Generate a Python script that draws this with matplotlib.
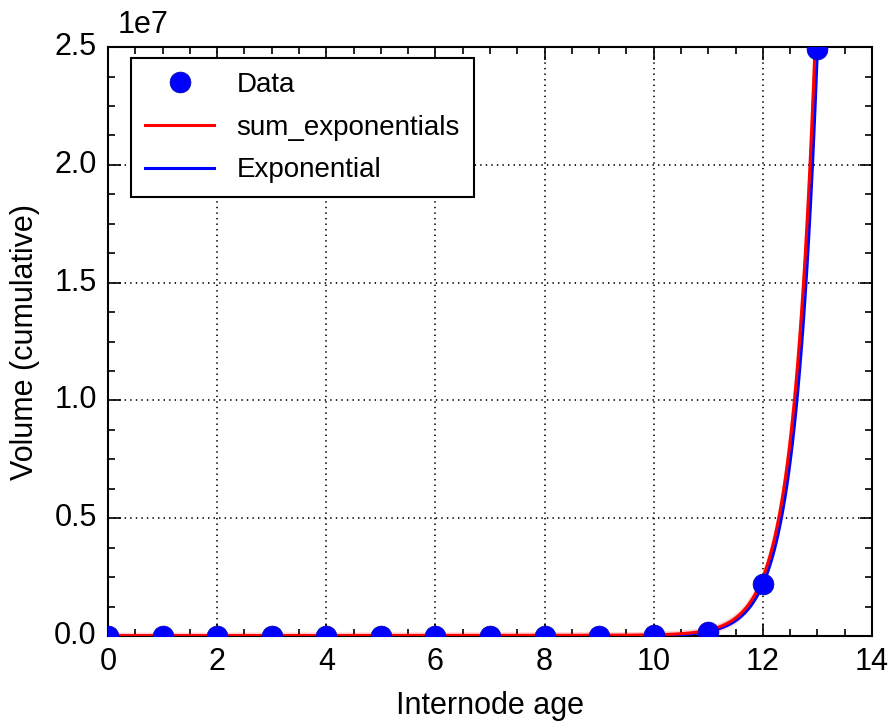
import numpy as np
import matplotlib
matplotlib.use("Agg")
import matplotlib.pyplot as plt
from matplotlib.ticker import AutoMinorLocator, FuncFormatter

# measured data (cumulative volume per internode age)
age = [0, 1, 2, 3, 4, 5, 6, 7, 8, 9, 10, 11, 12, 13]
volume = [5e3, 7e3, 9e3, 1.0e4, 1.1e4, 1.2e4, 1.3e4, 1.4e4, 1.5e4, 1.7e4,
          2.5e4, 1.9e5, 2.2e6, 2.49e7]

# fitted parameters
exp_a, exp_b = 4.76e-7, 2.43
sum_a1, sum_b1 = 5.3e-7, 2.43
sum_a2, sum_b2 = 1.5e4, 0.08
band_abs, band_rel = 1.5e5, 0.08

plt.style.use("classic")
plt.rcParams["font.family"] = ["Liberation Sans", "DejaVu Sans"]
plt.rcParams["font.size"] = 22

fig = plt.figure(figsize=(8.88, 7.24), dpi=100, facecolor="white")
ax = fig.add_axes([0.1216, 0.1215, 0.982 - 0.1216, 0.935 - 0.1215])

xx = np.linspace(0, 13, 400)
y_exp = exp_a * np.exp(exp_b * xx)
y_sum = sum_a1 * np.exp(sum_b1 * xx) + sum_a2 * np.exp(sum_b2 * xx)
w = band_abs + band_rel * y_sum

ax.fill_between(xx, y_sum - w, y_sum + w, color="red", alpha=0.18, lw=0)
ax.plot(age, volume, "o", color="blue", mec="#0000aa", mew=0.5, ms=15,
        label="Data", zorder=5)
ax.plot(xx, y_sum, "r-", lw=2.2, label="sum_exponentials", zorder=4)
ax.plot(xx, y_exp, "b-", lw=2.2, label="Exponential", zorder=3)

ax.set_xlim(0, 14)
ax.set_ylim(0, 2.5e7)
ax.set_xticks(np.arange(0, 15, 2))
ax.set_yticks(np.arange(0, 2.51e7, 0.5e7))
ax.yaxis.set_major_formatter(FuncFormatter(lambda v, p: "%.1f" % (v / 1e7)))
ax.xaxis.set_minor_locator(AutoMinorLocator(4))
ax.yaxis.set_minor_locator(AutoMinorLocator(4))
ax.tick_params(which="major", length=9, width=1.2)
ax.tick_params(which="minor", length=5, width=1.2)
ax.tick_params(labelsize=22, pad=8)
for s in ax.spines.values():
    s.set_linewidth(1.5)
ax.grid(True, ls=":", color="black", lw=1.2)
fig.text(118 / 888, 1 - 40 / 724, "1e7", fontsize=22, va="bottom", ha="left")

ax.set_xlabel("Internode age", fontsize=22, labelpad=10)
ax.set_ylabel("Volume (cumulative)", fontsize=22, labelpad=10)
leg = ax.legend(loc="upper left", bbox_to_anchor=(131 / 888, 1 - 58 / 724),
                bbox_transform=fig.transFigure, borderaxespad=0,
                numpoints=1, fontsize=20, borderpad=0.5,
                handlelength=2.5, labelspacing=0.6)
leg.get_frame().set_linewidth(1.5)

fig.savefig("out.png", dpi=100, facecolor="white")
